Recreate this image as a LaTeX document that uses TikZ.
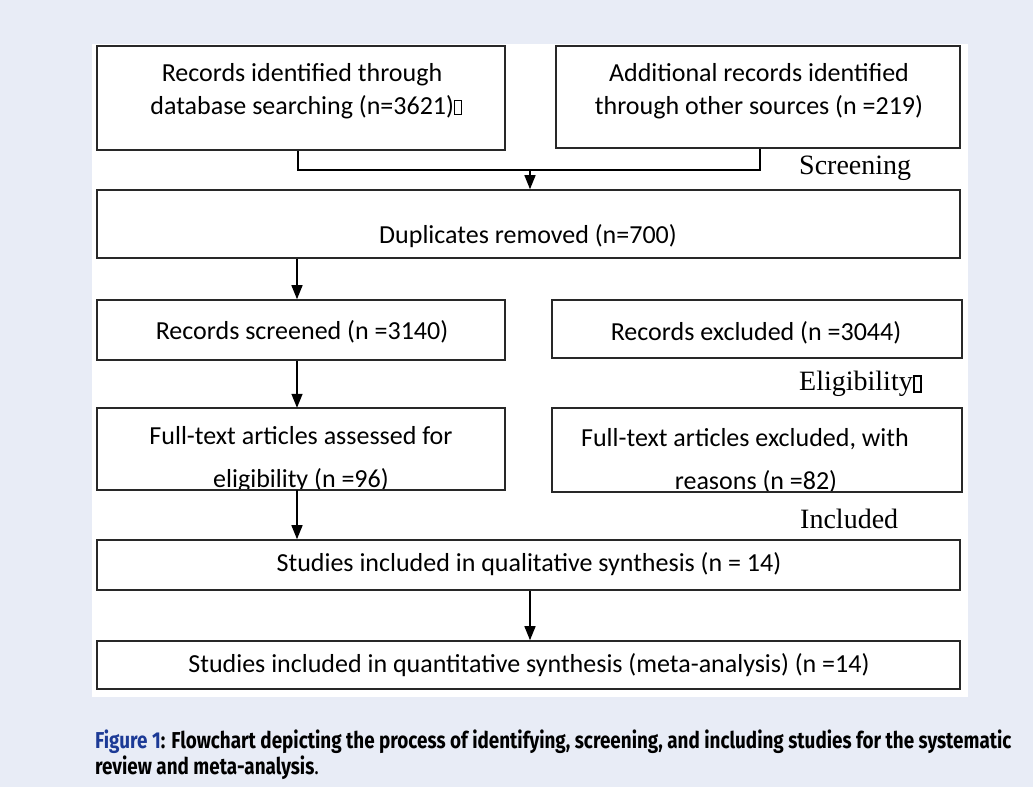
\documentclass[tikz,border=0pt]{standalone}
\usepackage{fontspec}
\setmainfont{Carlito}
\newfontfamily\stagefont{Liberation Serif}
\newfontfamily\capfont{Fira Sans}
\usetikzlibrary{arrows.meta}
\definecolor{bgblue}{RGB}{232,236,246}
\definecolor{capblue}{RGB}{28,58,150}
\definecolor{boxline}{RGB}{40,40,40}
\tikzset{
  stagebox/.style={draw=boxline, line width=1.6pt, fill=white, inner sep=0pt},
  stagefill/.style={fill=white, inner sep=0pt},
  boxborder/.style={draw=boxline, line width=1.6pt},
  boxtext/.style={font=\fontsize{26}{31}\selectfont, inner sep=0pt, anchor=center},
  boxbase/.style={font=\fontsize{26}{31}\selectfont, inner sep=0pt, anchor=base},
  stagelabel/.style={font=\stagefont\fontsize{28}{33}\selectfont, inner sep=0pt, anchor=west},
  flowline/.style={line width=1.4pt, black},
  flowarrow/.style={flowline, -{Triangle[length=14pt,width=11pt]}},
  capstyle/.style={inner sep=0pt, anchor=base west, font=\capfont\bfseries\fontsize{23}{27}\selectfont},
}
\newcommand{\missingglyph}{{\setlength{\fboxsep}{0pt}\setlength{\fboxrule}{0.9pt}\fbox{\rule{0pt}{0.5em}\hspace{0.22em}}}}
\newcommand{\missingglyphbold}{{\setlength{\fboxsep}{0pt}\setlength{\fboxrule}{2pt}\fbox{\rule{0pt}{0.5em}\hspace{0.2em}}}}
\begin{document}
\begin{tikzpicture}[x=1pt,y=-1pt]
\useasboundingbox (0,0) rectangle (1033,787);
\fill[bgblue] (0,0) rectangle (1033,787);
\fill[white] (92,44) rectangle (968,697);
% boxes
\node[stagebox, minimum width=408pt, minimum height=104pt] (b1) at (301,98) {};
\node[stagebox, minimum width=404pt, minimum height=102pt] (b2) at (758,97) {};
\node[stagebox, minimum width=863pt, minimum height=68pt] (b3) at (528.5,224) {};
\node[stagebox, minimum width=408pt, minimum height=60pt] (b4) at (301,330) {};
\node[stagebox, minimum width=410pt, minimum height=58pt] (b5) at (757,329) {};
\node[stagefill, minimum width=408pt, minimum height=82pt] (b6) at (301,449) {};
\node[stagefill, minimum width=410pt, minimum height=84pt] (b7) at (757,450) {};
\node[stagebox, minimum width=863pt, minimum height=50pt] (b8) at (528.5,565) {};
\node[stagebox, minimum width=863pt, minimum height=48pt] (b9) at (528.5,665) {};
% texts
\node[boxtext] (t1a) at (302,75) {Records identified through};
\node[boxtext] (t1b) at (306,107) {database searching (n=3621)\missingglyph};
\node[boxtext] (t2a) at (759,73) {Additional records identified};
\node[boxtext] (t2b) at (759,107) {through other sources (n =219)};
\node[boxtext] (t3) at (528,236) {Duplicates removed (n=700)};
\node[boxtext] (t4) at (302,332) {Records screened (n =3140)};
\node[boxtext] (t5) at (756,333) {Records excluded (n =3044)};
\node[boxtext] (t8) at (529,564) {Studies included in qualitative synthesis (n = 14)};
\node[boxtext] (t9) at (529,665) {Studies included in quantitative synthesis (meta-analysis) (n =14)};
\begin{scope}
\clip (b6.south west) rectangle (b6.north east);
\node[boxbase] (t6a) at (301,444) {Full-text articles assessed for};
\node[boxbase] (t6b) at (301,487) {eligibility (n =96)};
\end{scope}
\begin{scope}
\clip (b7.south west) rectangle (b7.north east);
\node[boxbase] (t7a) at (745,446) {Full-text articles excluded, with};
\node[boxbase] (t7b) at (756,489) {reasons (n =82)};
\end{scope}
\draw[boxborder] (b6.south west) rectangle (b6.north east);
\draw[boxborder] (b7.south west) rectangle (b7.north east);
% stage labels
\node[stagelabel] (s1) at (799,168) {Screening};
\node[stagelabel] (s2) at (799,384) {Eligibility\missingglyphbold};
\node[stagelabel] (s3) at (800,519) {Included};
% connectors
\coordinate (o1) at (298,150);
\coordinate (o2) at (760,148);
\coordinate (j) at (530,170);
\coordinate (lx) at (297,0);
\draw[flowline] (b1.south -| o1) |- (j) -| (b2.south -| o2);
\draw[flowarrow] (j) -- (b3.north -| j);
\draw[flowarrow] (b3.south -| lx) -- (b4.north -| lx);
\draw[flowarrow] (b4.south -| lx) -- (b6.north -| lx);
\draw[flowarrow] (b6.south -| lx) -- (b8.north -| lx);
\draw[flowarrow] (b8.south -| j) -- (b9.north -| j);
% caption
\node[capstyle] (c1) at (95,748)
  {\scalebox{0.82}[1]{{\color{capblue}Figure 1}: Flowchart depicting the process of identifying, screening, and including studies for the systematic}};
\node[capstyle] (c2) at (95,774)
  {\scalebox{0.82}[1]{review and meta-analysis\textmd{.}}};
\end{tikzpicture}
\end{document}
